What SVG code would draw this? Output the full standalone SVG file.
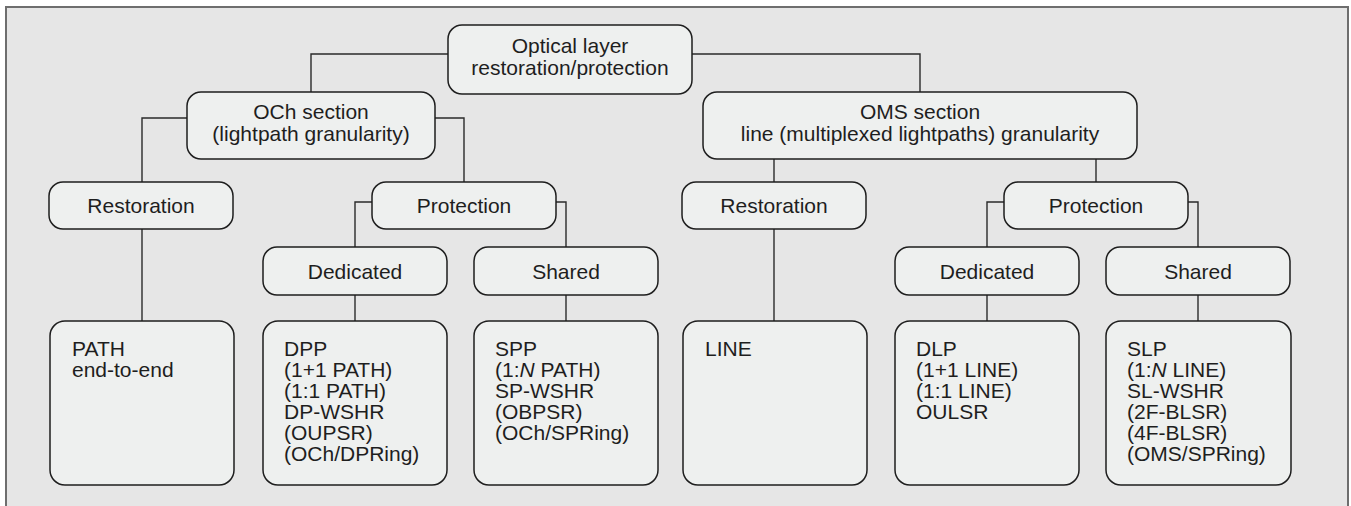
<svg xmlns="http://www.w3.org/2000/svg" width="1351" height="506" viewBox="0 0 1351 506">
<style>
.node{fill:#eef0ef;stroke:#1e1e1e;stroke-width:1.5}
.t{font-family:"Liberation Sans",Arial,sans-serif;font-size:21px;fill:#1e1e1e}
.c{text-anchor:middle}
.conn{fill:none;stroke:#2a2a2a;stroke-width:1.4}
</style>
<rect x="0" y="0" width="1351" height="506" fill="#ffffff"/>
<rect id="frame" x="6" y="7" width="1342" height="510" fill="#e6e6e6" stroke="#6e6e6e" stroke-width="2"/>
<g id="connectors" class="conn">
<path d="M448,54 H311 V92"/>
<path d="M692,54 H920 V92"/>
<path d="M187,118 H142 V182"/>
<path d="M435,118 H464 V182"/>
<path d="M774,159 V182"/>
<path d="M1096,159 V182"/>
<path d="M142,229 V321"/>
<path d="M372,202 H355 V247"/>
<path d="M556,202 H566 V247"/>
<path d="M355,295 V321"/>
<path d="M566,295 V321"/>
<path d="M774,229 V321"/>
<path d="M1004,202 H987 V247"/>
<path d="M1188,202 H1198 V247"/>
<path d="M987,295 V321"/>
<path d="M1198,295 V321"/>
</g>
<g id="root">
<rect class="node" x="448" y="25" width="244" height="69" rx="14"/>
<text class="t c" x="570" y="53">Optical layer</text>
<text class="t c" x="570" y="75">restoration/protection</text>
</g>
<g id="och">
<rect class="node" x="187" y="92" width="248" height="67" rx="14"/>
<text class="t c" x="311" y="119">OCh section</text>
<text class="t c" x="311" y="141">(lightpath granularity)</text>
</g>
<g id="oms">
<rect class="node" x="703" y="92" width="434" height="67" rx="14"/>
<text class="t c" x="920" y="119">OMS section</text>
<text class="t c" x="920" y="141">line (multiplexed lightpaths) granularity</text>
</g>
<g id="och-restoration">
<rect class="node" x="49" y="182" width="184" height="47" rx="14"/>
<text class="t c" x="141" y="213">Restoration</text>
</g>
<g id="och-protection">
<rect class="node" x="372" y="182" width="184" height="47" rx="14"/>
<text class="t c" x="464" y="213">Protection</text>
</g>
<g id="och-dedicated">
<rect class="node" x="263" y="247" width="184" height="48" rx="14"/>
<text class="t c" x="355" y="279">Dedicated</text>
</g>
<g id="och-shared">
<rect class="node" x="474" y="247" width="184" height="48" rx="14"/>
<text class="t c" x="566" y="279">Shared</text>
</g>
<g id="oms-restoration">
<rect class="node" x="682" y="182" width="184" height="47" rx="14"/>
<text class="t c" x="774" y="213">Restoration</text>
</g>
<g id="oms-protection">
<rect class="node" x="1004" y="182" width="184" height="47" rx="14"/>
<text class="t c" x="1096" y="213">Protection</text>
</g>
<g id="oms-dedicated">
<rect class="node" x="895" y="247" width="184" height="48" rx="14"/>
<text class="t c" x="987" y="279">Dedicated</text>
</g>
<g id="oms-shared">
<rect class="node" x="1106" y="247" width="184" height="48" rx="14"/>
<text class="t c" x="1198" y="279">Shared</text>
</g>
<g id="leaf-path">
<rect class="node" x="50" y="321" width="184" height="164" rx="15"/>
<text class="t" x="72" y="356">PATH</text>
<text class="t" x="72" y="377">end-to-end</text>
</g>
<g id="leaf-dpp">
<rect class="node" x="263" y="321" width="184" height="164" rx="15"/>
<text class="t" x="284" y="356">DPP</text>
<text class="t" x="284" y="377">(1+1 PATH)</text>
<text class="t" x="284" y="398">(1:1 PATH)</text>
<text class="t" x="284" y="419">DP-WSHR</text>
<text class="t" x="284" y="440">(OUPSR)</text>
<text class="t" x="284" y="461">(OCh/DPRing)</text>
</g>
<g id="leaf-spp">
<rect class="node" x="474" y="321" width="184" height="164" rx="15"/>
<text class="t" x="495" y="356">SPP</text>
<text class="t" x="495" y="377">(1:<tspan font-style="italic">N</tspan> PATH)</text>
<text class="t" x="495" y="398">SP-WSHR</text>
<text class="t" x="495" y="419">(OBPSR)</text>
<text class="t" x="495" y="440">(OCh/SPRing)</text>
</g>
<g id="leaf-line">
<rect class="node" x="683" y="321" width="184" height="164" rx="15"/>
<text class="t" x="705" y="356">LINE</text>
</g>
<g id="leaf-dlp">
<rect class="node" x="895" y="321" width="184" height="164" rx="15"/>
<text class="t" x="916" y="356">DLP</text>
<text class="t" x="916" y="377">(1+1 LINE)</text>
<text class="t" x="916" y="398">(1:1 LINE)</text>
<text class="t" x="916" y="419">OULSR</text>
</g>
<g id="leaf-slp">
<rect class="node" x="1106" y="321" width="185" height="164" rx="15"/>
<text class="t" x="1127" y="356">SLP</text>
<text class="t" x="1127" y="377">(1:<tspan font-style="italic">N</tspan> LINE)</text>
<text class="t" x="1127" y="398">SL-WSHR</text>
<text class="t" x="1127" y="419">(2F-BLSR)</text>
<text class="t" x="1127" y="440">(4F-BLSR)</text>
<text class="t" x="1127" y="461">(OMS/SPRing)</text>
</g>
</svg>
